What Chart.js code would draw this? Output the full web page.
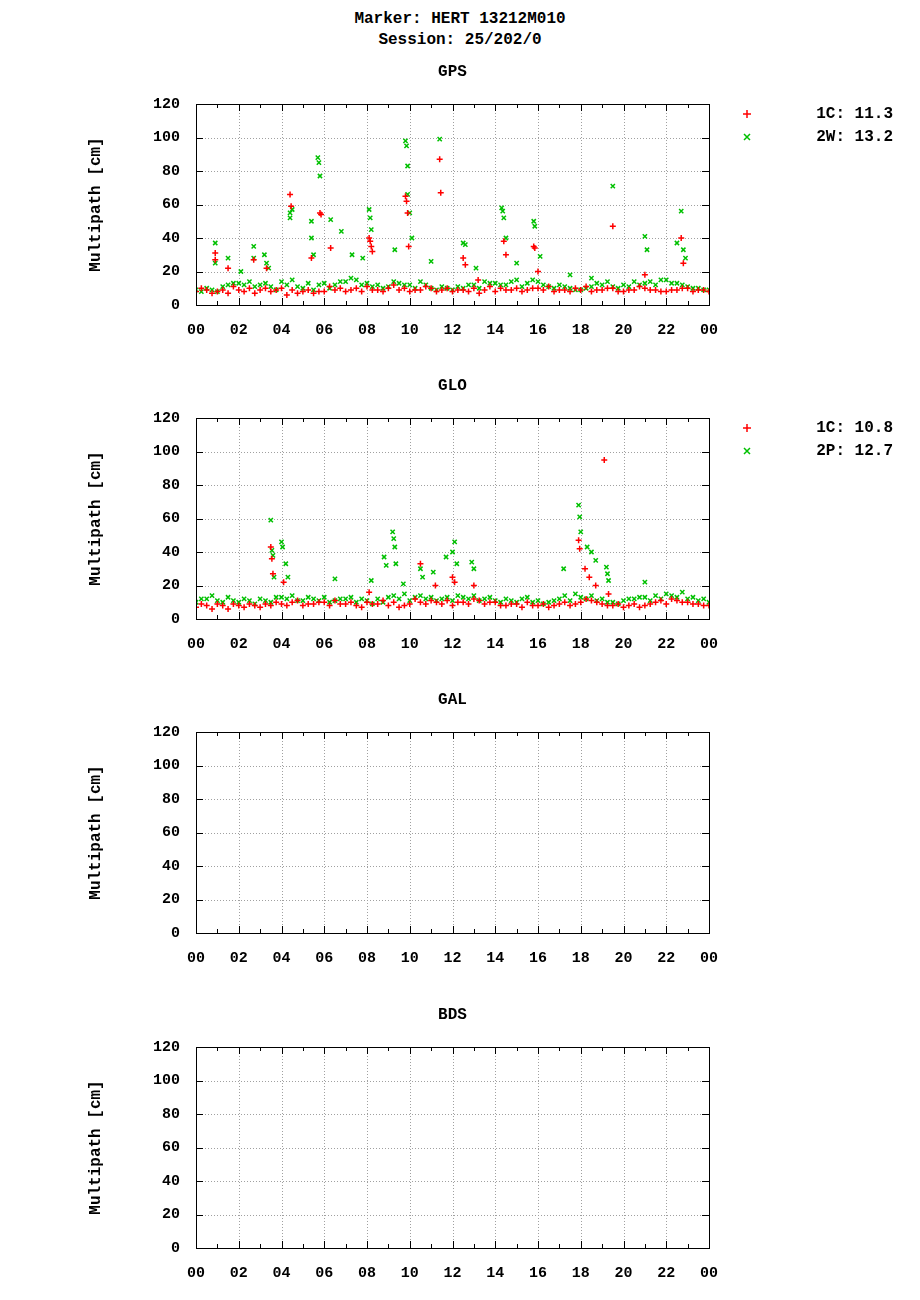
<!DOCTYPE html>
<html><head><meta charset="utf-8">
<script src="https://cdn.jsdelivr.net/npm/chart.js@4"></script>
<style>
body{margin:0;background:#fff;width:920px;height:1300px;position:relative;font-family:"Liberation Mono",monospace;}
.t{position:absolute;left:0;width:920px;text-align:center;font:bold 16px "Liberation Mono",monospace;}
canvas{position:absolute;left:0;}
</style></head><body>
<div class="t" style="top:10px">Marker: HERT 13212M010</div>
<div class="t" style="top:31px">Session: 25/202/0</div>
<canvas id="c0" width="920" height="314" style="top:60px;width:920px;height:314px"></canvas>
<canvas id="c1" width="920" height="314" style="top:374px;width:920px;height:314px"></canvas>
<canvas id="c2" width="920" height="314" style="top:688px;width:920px;height:314px"></canvas>
<canvas id="c3" width="920" height="314" style="top:1003px;width:920px;height:314px"></canvas>
<script>
const panels=["GPS","GLO","GAL","BDS"];
const xTicks=["00","02","04","06","08","10","12","14","16","18","20","22","00"];
// baselines at half-hour steps (layer a at :00/:30, layer b at :15/:45)
const gps1C_a=[8,9,8,7,9,10,9,8,10,9,8,7,8,9,8,10,11,9,10,9,8,9,10,9,8,9,10,9,8,9,10,9,10,11,9,8,9,8,9,10,8,9,10,9,8,9,10,9,8];
const gps1C_b=[10,7,9,11,8,7,10,9,6,7,9,8,11,10,9,8,9,8,12,10,9,11,8,10,9,8,7,11,10,9,8,10,9,8,9,10,11,9,10,8,9,11,9,8,9,10,8,9,10];
const gps2W_a=[9,10,8,12,13,14,12,11,14,15,10,9,13,12,14,15,13,12,11,13,12,14,10,11,9,10,12,14,13,12,15,13,14,11,12,10,9,11,12,11,12,14,13,12,15,13,11,10,9];
const gps2W_b=[8,9,11,13,12,11,13,9,12,11,13,12,10,14,16,12,11,10,14,12,10,12,9,10,11,12,10,13,12,14,11,15,12,10,11,9,10,13,14,10,11,12,14,15,13,12,10,9,8];
const gps1C_sx=[0.9,0.9,1.5,2.7,3.3,4.4,4.45,5.4,5.8,5.85,6.3,8.1,8.15,8.2,8.25,9.8,9.85,9.9,9.95,11.4,11.45,12.5,12.6,13.2,14.4,14.5,15.8,15.85,16.0,19.5,21.0,22.7,22.8];
const gps1C_sy=[31,27,22,27,22,66,59,28,55,54,34,40,38,35,32,65,62,55,35,87,67,28,24,15,38,30,35,34,20,47,18,40,25];
const gps2W_sx=[0.9,0.9,1.5,2.1,2.7,2.7,3.2,3.3,3.4,4.4,4.4,4.5,5.4,5.4,5.5,5.7,5.75,5.8,6.3,6.8,7.3,7.8,8.1,8.15,8.2,9.3,9.8,9.85,9.9,9.9,10.0,10.1,11.0,11.4,12.5,12.6,13.1,14.3,14.35,14.4,14.5,15.0,15.8,15.85,16.1,17.5,18.5,19.5,21.0,21.1,22.5,22.7,22.8,22.9];
const gps2W_sy=[37,25,28,20,35,28,30,25,22,55,52,57,50,40,30,88,85,77,51,44,30,28,57,52,45,33,98,95,83,66,55,40,26,99,37,36,22,58,56,52,40,25,50,47,29,18,16,71,41,33,37,56,33,28];
const glo1C_a=[7,8,9,6,8,9,7,8,9,10,8,9,10,11,9,8,10,9,8,7,9,10,11,9,8,10,12,9,10,8,9,10,8,7,9,8,10,11,9,8,7,9,8,10,9,11,10,9,8];
const glo1C_b=[9,6,8,9,7,8,9,10,8,11,9,10,8,9,10,7,9,11,10,8,12,9,10,11,10,9,11,10,8,9,7,8,9,8,10,9,12,10,8,9,8,7,9,11,12,10,9,8,7];
const glo2P_a=[10,12,11,13,10,11,12,10,13,14,11,12,13,11,12,10,11,12,13,12,11,14,13,12,11,13,14,12,11,12,10,13,11,10,12,11,13,14,12,10,11,12,13,14,15,13,12,11,10];
const glo2P_b=[12,14,10,11,12,9,11,13,12,11,13,11,10,12,13,12,9,10,14,15,13,12,11,13,14,12,11,13,10,11,12,10,9,11,14,15,12,11,10,9,12,13,11,12,14,16,13,12,11];
const glo1C_sx=[3.5,3.55,3.6,4.1,8.1,10.5,11.2,12.0,12.1,13.0,17.9,17.95,18.2,18.4,18.7,19.1,19.3];
const glo1C_sy=[43,36,27,22,16,33,20,25,22,20,47,42,30,25,20,95,15];
const glo2P_sx=[3.5,3.55,3.6,3.65,4.0,4.05,4.2,4.3,6.5,8.2,8.8,8.9,9.2,9.25,9.3,9.35,9.7,10.5,10.6,11.1,11.7,12.1,12.0,12.2,12.9,13.0,17.2,17.9,17.95,18.0,18.3,18.5,18.7,19.2,19.25,19.3,21.0];
const glo2P_sy=[59,41,38,25,46,43,33,25,24,23,37,32,52,48,43,33,21,30,25,28,37,46,40,33,34,30,30,68,61,52,43,40,35,31,27,23,22];
const legends=[["1C: 11.3","2W: 13.2"],["1C: 10.8","2P: 12.7"],[],[]];

function pts(a,b,sx,sy){const o=[];a.forEach((v,i)=>o.push({x:i*0.5,y:v}));b.forEach((v,i)=>{if(i*0.5+0.25<=24)o.push({x:i*0.5+0.25,y:v});});sx.forEach((x,i)=>o.push({x:x,y:sy[i]}));return o;}
const sets=[
 [pts(gps1C_a,gps1C_b,gps1C_sx,gps1C_sy),pts(gps2W_a,gps2W_b,gps2W_sx,gps2W_sy)],
 [pts(glo1C_a,glo1C_b,glo1C_sx,glo1C_sy),pts(glo2P_a,glo2P_b,glo2P_sx,glo2P_sy)],
 [[],[]],[[],[]]];
const F='"Liberation Mono",monospace';
const deco={id:'deco',
 beforeDatasetsDraw(c){const a=c.chartArea,x=c.scales.x,y=c.scales.y,g=c.ctx;g.save();
  g.strokeStyle='#a0a0a0';g.lineWidth=1;g.setLineDash([1,2]);
  for(let h=2;h<24;h+=2){const px=Math.round(x.getPixelForValue(h))+0.5;g.beginPath();g.moveTo(px,a.top);g.lineTo(px,a.bottom);g.stroke();}
  for(let v=20;v<120;v+=20){const py=Math.round(y.getPixelForValue(v))+0.5;g.beginPath();g.moveTo(a.left,py);g.lineTo(a.right,py);g.stroke();}
  g.restore();},
 afterDatasetsDraw(c){const a=c.chartArea,x=c.scales.x,y=c.scales.y,g=c.ctx,i=c.options.plugins.deco.idx;g.save();
  g.strokeStyle='#000';g.lineWidth=1;g.strokeRect(a.left+0.5,a.top+0.5,a.right-a.left,a.bottom-a.top);
  g.beginPath();
  for(let h=1;h<24;h++){const px=Math.round(x.getPixelForValue(h))+0.5,l=h%2?4:7;g.moveTo(px,a.bottom);g.lineTo(px,a.bottom-l);g.moveTo(px,a.top);g.lineTo(px,a.top+l);}
  for(let v=20;v<120;v+=20){const py=Math.round(y.getPixelForValue(v))+0.5;g.moveTo(a.left,py);g.lineTo(a.left+7,py);g.moveTo(a.right,py);g.lineTo(a.right-7,py);}
  g.stroke();
  g.fillStyle='#000';g.font='bold 16px '+F;g.textAlign='center';g.textBaseline='middle';
  g.fillText(panels[i],(a.left+a.right)/2,12);
  g.save();g.translate(96,(a.top+a.bottom)/2);g.rotate(-Math.PI/2);g.fillText('Multipath [cm]',0,0);g.restore();
  const L=legends[i];const cols=['#ff0000','#00c000'];
  L.forEach((t,k)=>{const yy=a.top+10+k*23;g.textAlign='right';g.fillStyle='#000';g.fillText(t,893,yy);
   g.strokeStyle=cols[k];g.lineWidth=1.5;g.beginPath();
   if(k==0){g.moveTo(743,yy);g.lineTo(751,yy);g.moveTo(747,yy-4);g.lineTo(747,yy+4);}
   else{g.moveTo(744,yy-3);g.lineTo(750,yy+3);g.moveTo(744,yy+3);g.lineTo(750,yy-3);}
   g.stroke();});
  g.restore();}
};
Chart.register(deco);
panels.forEach((p,i)=>{
 new Chart(document.getElementById('c'+i),{type:'scatter',
  data:{datasets:[
   {data:sets[i][0],pointStyle:'cross',radius:3,borderColor:'#ff0000',backgroundColor:'#ff0000',borderWidth:1.5},
   {data:sets[i][1],pointStyle:'crossRot',radius:3,borderColor:'#00c000',backgroundColor:'#00c000',borderWidth:1.5}]},
  options:{responsive:false,animation:false,devicePixelRatio:1,
   layout:{padding:{left:0,right:211,top:44,bottom:29}},
   plugins:{legend:{display:false},tooltip:{enabled:false},deco:{idx:i}},
   scales:{
    x:{type:'linear',min:0,max:24,grid:{display:false},border:{display:false},
     afterFit(s){s.height=40;},
     afterBuildTicks(s){s.ticks=xTicks.map((t,k)=>({value:k*2}));},
     ticks:{color:'#000',font:{family:F,weight:'bold',size:15},padding:8,maxRotation:0,autoSkip:false,callback:(v,k)=>xTicks[k]}},
    y:{min:0,max:120,grid:{display:false},border:{display:false},
     afterFit(s){s.width=196;},
     ticks:{stepSize:20,color:'#000',font:{family:F,weight:'bold',size:15},padding:8}}}}});
});
</script>
</body></html>
